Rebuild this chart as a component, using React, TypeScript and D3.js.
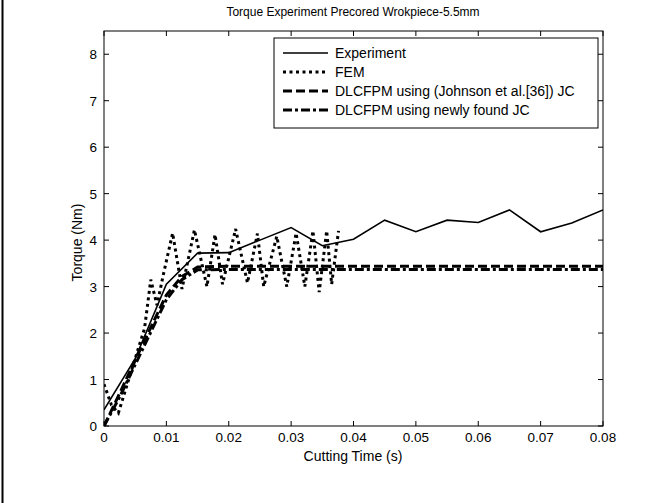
import React from "react";
import * as d3 from "d3";

const xTicks = [0, 0.01, 0.02, 0.03, 0.04, 0.05, 0.06, 0.07, 0.08];
const xTickLabels = ["0", "0.01", "0.02", "0.03", "0.04", "0.05", "0.06", "0.07", "0.08"];
const yTicks = [0, 1, 2, 3, 4, 5, 6, 7, 8];

const expT = [0, 0.005, 0.01, 0.015, 0.02, 0.025, 0.03, 0.035, 0.04, 0.045, 0.05, 0.055, 0.06, 0.065, 0.07, 0.075, 0.08];
const expV = [0.35, 1.45, 3.05, 3.72, 3.73, 4.0, 4.27, 3.88, 4.02, 4.43, 4.18, 4.43, 4.38, 4.65, 4.18, 4.37, 4.65];

const femT = [0, 0.0012, 0.0023, 0.0035, 0.005, 0.0065, 0.0075, 0.0085, 0.0095, 0.011, 0.0125, 0.0145, 0.0165, 0.0178, 0.019, 0.0211, 0.023, 0.0246, 0.0256, 0.0277, 0.0293, 0.0308, 0.0322, 0.0335, 0.0345, 0.0357, 0.0365, 0.0376];
const femV = [0.9, 0.45, 0.28, 0.8, 1.45, 2.1, 3.15, 2.6, 3.25, 4.15, 2.95, 4.22, 3.0, 4.12, 3.05, 4.24, 3.08, 4.14, 3.0, 4.08, 3.0, 4.15, 3.0, 4.2, 2.88, 4.2, 3.05, 4.2];

const jcT = [0, 0.0025, 0.005, 0.0075, 0.01, 0.0125, 0.015, 0.02, 0.08];
const jcV = [0, 0.7, 1.42, 2.12, 2.82, 3.22, 3.42, 3.44, 3.44];

const newT = [0, 0.0025, 0.005, 0.0075, 0.01, 0.0125, 0.015, 0.02, 0.08];
const newV = [0, 0.62, 1.32, 2.02, 2.72, 3.15, 3.36, 3.37, 3.37];

const legendLabels = [
  "Experiment",
  "FEM",
  "DLCFPM using (Johnson et al.[36]) JC",
  "DLCFPM using newly found JC",
];

const W = 670;
const H = 503;
const L = 104, R = 603, T = 31, B = 426;
const font = "'Liberation Sans', Arial, Helvetica, sans-serif";

const styles = [
  { w: 1.6, dash: undefined as string | undefined },
  { w: 3, dash: "3,3.5" },
  { w: 3, dash: "9,4" },
  { w: 3, dash: "9,3,3,3" },
];

export default function App() {
  const x = d3.scaleLinear().domain([0, 0.08]).range([L, R]);
  const y = d3.scaleLinear().domain([0, 8.5]).range([B, T]);
  const line = d3.line<[number, number]>().x((d) => x(d[0])).y((d) => y(d[1]));
  const zip = (a: number[], b: number[]) => a.map((t, i) => [t, b[i]] as [number, number]);
  const series = [zip(expT, expV), zip(femT, femV), zip(jcT, jcV), zip(newT, newV)];

  const tl = 5;
  const legX = 274, legY = 38, legW = 324, legH = 90, rowH = 19;

  return (
    <svg width={W} height={H} style={{ position: "absolute", left: 0, top: 0, background: "#fff" }}>
      <rect x={0} y={0} width={W} height={H} fill="#fff" />
      <line x1={2.5} y1={0} x2={2.5} y2={H} stroke="#000" strokeWidth={2} />
      <text x={353} y={16} textAnchor="middle" fontFamily={font} fontSize={12} fill="#000">
        Torque Experiment Precored Wrokpiece-5.5mm
      </text>
      <defs>
        <clipPath id="clip">
          <rect x={L} y={T} width={R - L} height={B - T} />
        </clipPath>
      </defs>
      <g clipPath="url(#clip)">
        {series.map((s, i) => (
          <path key={i} d={line(s) || ""} fill="none" stroke="#000" strokeWidth={styles[i].w}
            strokeDasharray={styles[i].dash} strokeLinejoin="miter" />
        ))}
      </g>
      <rect x={L} y={T} width={R - L} height={B - T} fill="none" stroke="#000" strokeWidth={1} />
      {xTicks.map((t, i) => (
        <g key={"x" + i}>
          <line x1={x(t)} x2={x(t)} y1={B} y2={B - tl} stroke="#000" />
          <line x1={x(t)} x2={x(t)} y1={T} y2={T + tl} stroke="#000" />
          <text x={x(t)} y={B + 16} textAnchor="middle" fontFamily={font} fontSize={13.5} fill="#000">
            {xTickLabels[i]}
          </text>
        </g>
      ))}
      {yTicks.map((v, i) => (
        <g key={"y" + i}>
          <line x1={L} x2={L + tl} y1={y(v)} y2={y(v)} stroke="#000" />
          <line x1={R} x2={R - tl} y1={y(v)} y2={y(v)} stroke="#000" />
          <text x={L - 7} y={y(v) + 5} textAnchor="end" fontFamily={font} fontSize={13.5} fill="#000">
            {String(v)}
          </text>
        </g>
      ))}
      <text x={353} y={461} textAnchor="middle" fontFamily={font} fontSize={14} fill="#000">
        Cutting Time (s)
      </text>
      <text transform={`translate(82,${(T + B) / 2 + 14}) rotate(-90)`} textAnchor="middle" fontFamily={font} fontSize={14} fill="#000">
        Torque (Nm)
      </text>
      <rect x={legX} y={legY} width={legW} height={legH} fill="#fff" stroke="#000" strokeWidth={1} />
      {legendLabels.map((lab, i) => {
        const cy = legY + 15 + i * rowH;
        return (
          <g key={"l" + i}>
            <line x1={283} x2={328} y1={cy} y2={cy} stroke="#000" strokeWidth={styles[i].w}
              strokeDasharray={styles[i].dash} />
            <text x={335} y={cy + 5} fontFamily={font} fontSize={14} fill="#000">{lab}</text>
          </g>
        );
      })}
    </svg>
  );
}
